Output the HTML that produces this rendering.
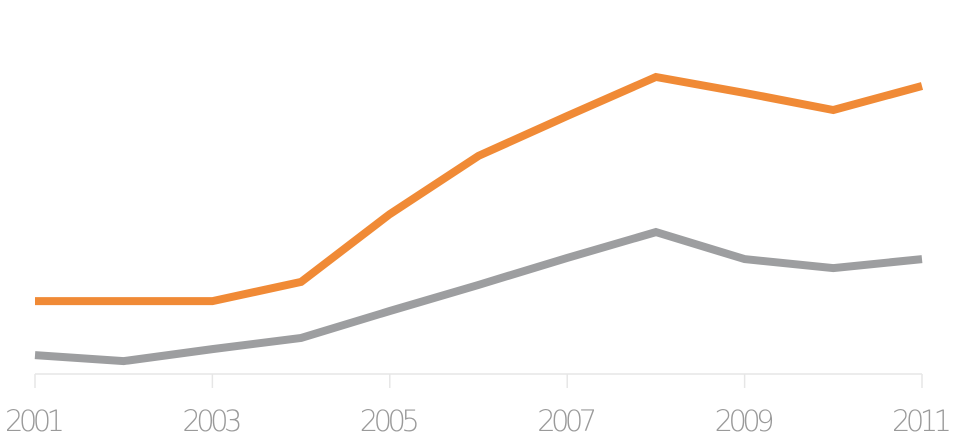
<!DOCTYPE html>
<html><head><meta charset="utf-8"><style>
html,body{margin:0;padding:0;background:#fff;}
svg{display:block;}
text{font-family:"DejaVu Sans","Liberation Sans",sans-serif;font-weight:200;}
</style></head><body>
<svg id="chart" width="960" height="444" viewBox="0 0 960 444" xmlns="http://www.w3.org/2000/svg"></svg>
<script>
const years = [2001,2002,2003,2004,2005,2006,2007,2008,2009,2010,2011];
const orangeValues = [24.3,24.3,24.3,30.7,53.3,72.7,86,99,93.7,88,96];
const grayValues = [6.3,4.3,8.3,12,21,29.7,38.7,47.3,38.3,35.3,38.3];
const tickLabels = [2001,2003,2005,2007,2009,2011];

const NS='http://www.w3.org/2000/svg';
const svg=document.getElementById('chart');
const x0=35,x1=922,yBase=374;
function xScale(yr){return x0+(yr-years[0])*(x1-x0)/(years[years.length-1]-years[0]);}
function yScale(v){return yBase-v*3;}

const axis=document.createElementNS(NS,'line');


axis.setAttribute('x1',x0);axis.setAttribute('x2',x1);
axis.setAttribute('y1',yBase);axis.setAttribute('y2',yBase);
axis.setAttribute('stroke','#e6e6e6');axis.setAttribute('stroke-width','1.5');
svg.appendChild(axis);

tickLabels.forEach(t=>{
  const tk=document.createElementNS(NS,'line');
  
  
  tk.setAttribute('x1',xScale(t));tk.setAttribute('x2',xScale(t));
  tk.setAttribute('y1',yBase);tk.setAttribute('y2',388);
  tk.setAttribute('stroke','#e6e6e6');tk.setAttribute('stroke-width','1.5');
  svg.appendChild(tk);
  const lb=document.createElementNS(NS,'text');
  
  
  lb.setAttribute('x',xScale(t));lb.setAttribute('y',431);
  lb.setAttribute('text-anchor','middle');
  lb.setAttribute('font-size','29');
  lb.setAttribute('fill','#9a9a9a');
  lb.setAttribute('textLength','60');
  lb.textContent=t;
  svg.appendChild(lb);
});

function drawLine(vals,color,name){
  const p=document.createElementNS(NS,'polyline');
  
  
  p.setAttribute('points',vals.map((v,i)=>xScale(years[i])+','+yScale(v)).join(' '));
  p.setAttribute('fill','none');
  p.setAttribute('stroke',color);
  p.setAttribute('stroke-width','8');
  p.setAttribute('stroke-linejoin','miter');
  svg.appendChild(p);
}
drawLine(grayValues,'#9d9e a0'.replace(' ',''),'gray-series-line');
drawLine(orangeValues,'#f08a36','orange-series-line');
</script>
</body></html>
